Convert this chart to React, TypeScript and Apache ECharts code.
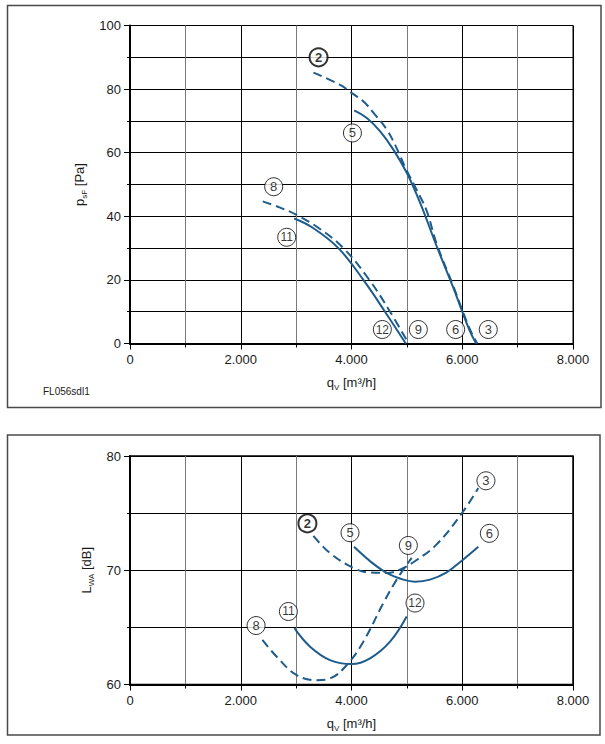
import React, { useEffect, useRef } from "react";
import * as echarts from "echarts";

// Fan characteristic: static pressure vs. volume flow
const pressDashedHigh: [number, number][] = [
  [3313, 85.2], [3795, 81.3], [3994, 78.9], [4217, 76.1], [4428, 71.9], [4639, 67.2],
  [4800, 62.0], [4980, 55.0], [5180, 48.2], [5360, 41.6], [5540, 31.2], [5840, 18.0],
  [6000, 10.5], [6150, 4.0], [6270, 0],
];
const pressSolidHigh: [number, number][] = [
  [4048, 73.3], [4277, 70.9], [4518, 66.7], [4759, 60.9], [5000, 53.6], [5240, 44.2],
  [5540, 30.5], [5840, 17.5], [5990, 10.5], [6140, 3.8], [6250, 0],
];
const pressDashedLow: [number, number][] = [
  [2397, 44.7], [2700, 42.8], [3000, 40.5], [3400, 36.4], [3853, 30], [4322, 20],
  [4696, 10], [5030, 0],
];
const pressSolidLow: [number, number][] = [
  [2965, 39.3], [3300, 36.4], [3763, 30], [4214, 20], [4605, 10], [4980, 0],
];

// Sound power level vs. volume flow
const soundDashedHigh: [number, number][] = [
  [3312, 73.0], [3612, 71.5], [4034, 70.2], [4335, 69.8], [4635, 69.77], [4876, 70.06],
  [5177, 70.9], [5538, 72.26], [6001, 75.04], [6290, 77.2],
];
const soundSolidHigh: [number, number][] = [
  [4046, 72.05], [4335, 70.8], [4635, 69.77], [4936, 69.18], [5147, 69.0], [5418, 69.18],
  [5718, 69.82], [6019, 70.94], [6290, 72.05],
];
const soundDashedLow: [number, number][] = [
  [2391, 63.9], [2650, 62.43], [3011, 60.82], [3372, 60.38], [3612, 60.53], [3913, 61.7],
  [4214, 63.75], [4575, 67.13], [4816, 69.18], [4936, 70.06], [5087, 71.08],
];
const soundSolidLow: [number, number][] = [
  [2969, 64.93], [3252, 63.31], [3612, 62.14], [4003, 61.79], [4335, 62.29], [4696, 63.75],
  [4996, 65.95],
];

// Circled curve markers: [flow, value, number]
const pressMarkers: [number, number, string][] = [
  [3405, 90, "2"], [4017, 66.2, "5"], [2595, 49.3, "8"], [2830, 33.4, "11"],
  [4557, 4.4, "12"], [5207, 4.4, "9"], [5881, 4.4, "6"], [6470, 4.4, "3"],
];
const soundMarkers: [number, number, string][] = [
  [3204, 74.1, "2"], [3973, 73.28, "5"], [5027, 72.17, "9"], [6428, 77.83, "3"],
  [6489, 73.23, "6"], [5147, 67.13, "12"], [2860, 66.39, "11"], [2277, 65.16, "8"],
];

const xTicks = [0, 2000, 4000, 6000, 8000];
const pressTicks = [0, 20, 40, 60, 80, 100];
const soundTicks = [60, 70, 80];

const FONT = "'Liberation Sans', Arial, sans-serif";
const CURVE = "#1d5c8b";
const TXT = "#1a1a1a";

const fmtThousands = (v: number) =>
  v === 0 ? "0" : `${Math.floor(v / 1000)}.${String(v % 1000).padStart(3, "0")}`;

const nameRich = {
  b: { fontSize: 13, fontFamily: FONT, color: TXT, lineHeight: 18 },
  s: { fontSize: 8, fontFamily: FONT, color: TXT, lineHeight: 18, verticalAlign: "bottom" },
};

function xAxisFor(gridIndex: number) {
  return {
    type: "value",
    gridIndex,
    min: xTicks[0],
    max: xTicks[xTicks.length - 1],
    interval: xTicks[1] - xTicks[0],
    name: "{b|q}{s|V}{b| [m³/h]}",
    nameLocation: "middle",
    nameGap: 30,
    nameTextStyle: { color: TXT, fontFamily: FONT, fontSize: 13, rich: nameRich },
    axisLine: { show: true, onZero: false, lineStyle: { color: "#000", width: 2 } },
    axisTick: { show: true, length: 6, inside: false, lineStyle: { color: "#000", width: 1 } },
    minorTick: { show: true, splitNumber: 2, length: 4, lineStyle: { color: "#000", width: 1 } },
    axisLabel: {
      color: TXT,
      fontFamily: FONT,
      fontSize: 13,
      margin: 9,
      formatter: (v: number) => fmtThousands(v),
    },
    splitLine: { show: true, lineStyle: { color: "#000", width: 1 } },
    minorSplitLine: { show: true, lineStyle: { color: "#7a7a7a", width: 1 } },
  };
}

function yAxisFor(gridIndex: number, ticks: number[], name: string, nameGap: number) {
  return {
    type: "value",
    gridIndex,
    min: ticks[0],
    max: ticks[ticks.length - 1],
    interval: ticks[1] - ticks[0],
    name,
    nameLocation: "middle",
    nameGap,
    nameRotate: 90,
    nameTextStyle: { color: TXT, fontFamily: FONT, fontSize: 13, rich: nameRich },
    axisLine: { show: true, onZero: false, lineStyle: { color: "#000", width: 2 } },
    axisTick: { show: true, length: 6, inside: false, lineStyle: { color: "#000", width: 1 } },
    minorTick: { show: true, splitNumber: 2, length: 3, lineStyle: { color: "#000", width: 1 } },
    axisLabel: { color: TXT, fontFamily: FONT, fontSize: 13, margin: 9 },
    splitLine: { show: true, lineStyle: { color: "#000", width: 1 } },
    minorSplitLine: { show: true, lineStyle: { color: "#000", width: 1 } },
  };
}

function curve(data: [number, number][], idx: number, dashed: boolean) {
  return {
    type: "line",
    xAxisIndex: idx,
    yAxisIndex: idx,
    data,
    smooth: 0.4,
    showSymbol: false,
    symbol: "none",
    lineStyle: {
      color: CURVE,
      width: 2,
      type: dashed ? [9, 5] : "solid",
    },
    z: 3,
  };
}

function markers(list: [number, number, string][], idx: number) {
  return {
    type: "scatter",
    xAxisIndex: idx,
    yAxisIndex: idx,
    symbol: "circle",
    symbolSize: 18,
    z: 5,
    data: list.map(([x, y, n]) => ({
      value: [x, y],
      name: n,
      itemStyle: {
        color: "#fff",
        borderColor: "#000",
        borderWidth: n === "2" ? 2 : 1,
      },
      label: {
        fontWeight: n === "2" ? "bold" : "normal",
        fontSize: n.length > 1 ? 12 : 13,
      },
    })),
    label: {
      show: true,
      position: "inside",
      formatter: (p: any) => p.name,
      color: "#000",
      fontFamily: FONT,
      fontSize: 13,
    },
  };
}

export default function App() {
  const ref = useRef<HTMLDivElement>(null);

  useEffect(() => {
    if (!ref.current) return;
    const chart = echarts.init(ref.current, undefined, { renderer: "svg" });
    chart.setOption({
      animation: false,
      backgroundColor: "#fff",
      grid: [
        { left: 130, top: 25.5, width: 443, height: 318, show: true, borderColor: "#000", borderWidth: 1, backgroundColor: "transparent", containLabel: false },
        { left: 130, top: 456, width: 443, height: 228.5, show: true, borderColor: "#000", borderWidth: 1.5, backgroundColor: "transparent", containLabel: false },
      ],
      xAxis: [xAxisFor(0), xAxisFor(1)],
      yAxis: [
        yAxisFor(0, pressTicks, "{b|p}{s|sF}{b| [Pa]}", 35),
        yAxisFor(1, soundTicks, "{b|L}{s|WA}{b| [dB]}", 33),
      ],
      series: [
        curve(pressDashedHigh, 0, true),
        curve(pressSolidHigh, 0, false),
        curve(pressDashedLow, 0, true),
        curve(pressSolidLow, 0, false),
        markers(pressMarkers, 0),
        curve(soundDashedHigh, 1, true),
        curve(soundSolidHigh, 1, false),
        curve(soundDashedLow, 1, true),
        curve(soundSolidLow, 1, false),
        markers(soundMarkers, 1),
      ],
      graphic: [
        {
          type: "rect",
          shape: { x: 7.5, y: 5.5, width: 593.5, height: 402 },
          style: { fill: "none", stroke: "#4a4a4a", lineWidth: 1.5 },
          silent: true,
          z: -1,
        },
        {
          type: "rect",
          shape: { x: 7.5, y: 435, width: 592.5, height: 300 },
          style: { fill: "none", stroke: "#4a4a4a", lineWidth: 1.5 },
          silent: true,
          z: -1,
        },
        {
          type: "text",
          x: 43,
          y: 391,
          style: {
            text: "FL056sdl1",
            fontFamily: FONT,
            fontSize: 10,
            fill: TXT,
            verticalAlign: "middle",
          },
        },
      ],
    });
    return () => chart.dispose();
  }, []);

  return (
    <div
      ref={ref}
      style={{ position: "absolute", left: 0, top: 0, width: 605, height: 744, background: "#fff" }}
    />
  );
}
